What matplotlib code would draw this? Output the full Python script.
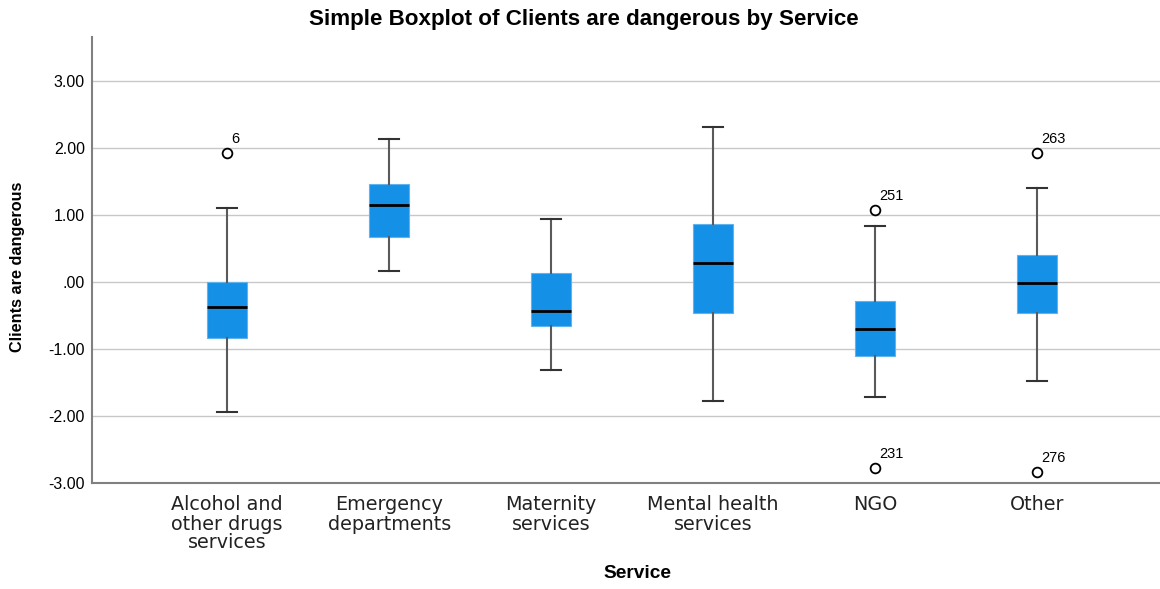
import matplotlib
matplotlib.use('Agg')
import matplotlib.pyplot as plt
from matplotlib.ticker import FuncFormatter

services = ['Alcohol and\nother drugs\nservices', 'Emergency\ndepartments', 'Maternity\nservices',
            'Mental health\nservices', 'NGO', 'Other']
medians = [-0.37, 1.15, -0.43, 0.28, -0.70, -0.02]
q1 = [-0.83, 0.67, -0.66, -0.47, -1.10, -0.46]
q3 = [0.00, 1.47, 0.14, 0.87, -0.29, 0.41]
whisker_low = [-1.94, 0.16, -1.31, -1.77, -1.71, -1.48]
whisker_high = [1.11, 2.13, 0.94, 2.32, 0.84, 1.41]
outliers = [[1.93], [], [], [], [1.07, -2.78], [1.93, -2.83]]
outlier_ids = [['6'], [], [], [], ['251', '231'], ['263', '276']]

stats = []
for i in range(len(services)):
    stats.append({'med': medians[i], 'q1': q1[i], 'q3': q3[i],
                  'whislo': whisker_low[i], 'whishi': whisker_high[i],
                  'fliers': outliers[i]})

fig = plt.figure(figsize=(11.6, 5.89), dpi=100)
ax = fig.add_axes([92 / 1160, 1 - 483 / 589, 1 - 92 / 1160, (483 - 37) / 589])

positions = list(range(len(services)))
ax.bxp(stats, positions=positions, widths=0.25, capwidths=0.124, patch_artist=True,
       boxprops=dict(facecolor='#1490e6', edgecolor='#5fb3ee', linewidth=0.8),
       medianprops=dict(color='black', linewidth=2),
       whiskerprops=dict(color='#5a5a5a', linewidth=1.5),
       capprops=dict(color='#333333', linewidth=1.5),
       flierprops=dict(marker='o', markerfacecolor='none', markeredgecolor='black',
                       markersize=7, markeredgewidth=1.3),
       zorder=3)

# case numbers next to the outliers
for i, vals in enumerate(outliers):
    for v, lab in zip(vals, outlier_ids[i]):
        ax.annotate(lab, (positions[i], v), xytext=(3, 10), textcoords='offset points',
                    fontsize=10.5, family='Liberation Sans', va='center', ha='left')

ax.set_xlim(-0.835, 5.76)
ax.set_ylim(-3.0, 3.657)
ax.set_yticks([-3, -2, -1, 0, 1, 2, 3])
ax.yaxis.set_major_formatter(FuncFormatter(lambda v, p: '.00' if abs(v) < 1e-9 else f'{v:.2f}'))
ax.set_xticks(positions)
ax.set_xticklabels(services, fontsize=13.8, family='DejaVu Sans', linespacing=1.0, color='#222222')
for lab in ax.get_yticklabels():
    lab.set_family('Liberation Sans')
    lab.set_fontsize(11.5)
ax.tick_params(axis='both', length=0)
ax.tick_params(axis='y', pad=5)
ax.tick_params(axis='x', pad=9)

ax.grid(axis='y', color='#c8c8c8', linewidth=1)
ax.set_axisbelow(True)
for s in ['top', 'right']:
    ax.spines[s].set_visible(False)
for s in ['left', 'bottom']:
    ax.spines[s].set_color('#808080')
    ax.spines[s].set_linewidth(1.5)

fig.text(583.5 / 1160, 1 - 20 / 589, 'Simple Boxplot of Clients are dangerous by Service',
         ha='center', va='center', fontsize=16.1, fontweight='bold', family='Liberation Sans')
fig.text(637 / 1160, 1 - 574 / 589, 'Service', ha='center', va='center',
         fontsize=13.8, fontweight='bold', family='Liberation Sans')
fig.text(18 / 1160, 1 - 267 / 589, 'Clients are dangerous', ha='center', va='center',
         rotation=90, fontsize=11.7, fontweight='bold', family='Liberation Sans')

fig.savefig('out.png', dpi=100)
